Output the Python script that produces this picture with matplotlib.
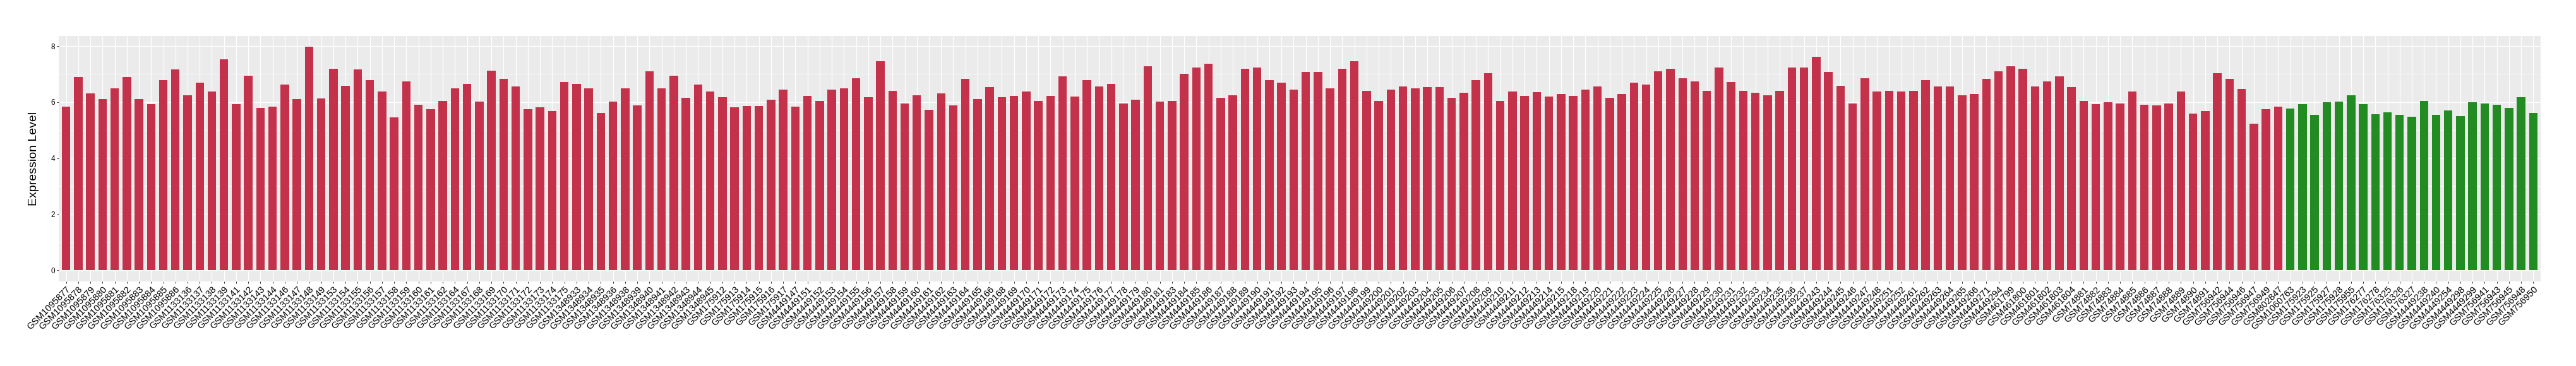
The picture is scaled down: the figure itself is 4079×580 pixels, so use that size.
import numpy as np
import matplotlib
matplotlib.use("Agg")
import matplotlib.pyplot as plt

plt.rcParams['font.family'] = ['Liberation Sans', 'DejaVu Sans']

# sample ids, in plotted order
red_samples = [
    "GSM1095877", "GSM1095878", "GSM1095879", "GSM1095880", "GSM1095881",
    "GSM1095882", "GSM1095883", "GSM1095884", "GSM1095885", "GSM1095886",
    "GSM1133136", "GSM1133137", "GSM1133138", "GSM1133139", "GSM1133141",
    "GSM1133142", "GSM1133143", "GSM1133144", "GSM1133146", "GSM1133147",
    "GSM1133148", "GSM1133149", "GSM1133153", "GSM1133154", "GSM1133155",
    "GSM1133156", "GSM1133157", "GSM1133158", "GSM1133159", "GSM1133160",
    "GSM1133161", "GSM1133162", "GSM1133164", "GSM1133167", "GSM1133168",
    "GSM1133169", "GSM1133170", "GSM1133171", "GSM1133172", "GSM1133173",
    "GSM1133174", "GSM1133175",
    "GSM1348933", "GSM1348934", "GSM1348935", "GSM1348936", "GSM1348938",
    "GSM1348939", "GSM1348940", "GSM1348941", "GSM1348942", "GSM1348943",
    "GSM1348944", "GSM1348945",
    "GSM175912", "GSM175913", "GSM175914", "GSM175915", "GSM175916", "GSM175917",
    "GSM4449147", "GSM4449151", "GSM4449152", "GSM4449153", "GSM4449154",
    "GSM4449155", "GSM4449156", "GSM4449157", "GSM4449158", "GSM4449159",
    "GSM4449160", "GSM4449161", "GSM4449162", "GSM4449163", "GSM4449164",
    "GSM4449165", "GSM4449166", "GSM4449168", "GSM4449169", "GSM4449170",
    "GSM4449171", "GSM4449172", "GSM4449173", "GSM4449174", "GSM4449175",
    "GSM4449176", "GSM4449177", "GSM4449178", "GSM4449179", "GSM4449180",
    "GSM4449181", "GSM4449183", "GSM4449184", "GSM4449185", "GSM4449186",
    "GSM4449187", "GSM4449188", "GSM4449189", "GSM4449190", "GSM4449191",
    "GSM4449192", "GSM4449193", "GSM4449194", "GSM4449195", "GSM4449196",
    "GSM4449197", "GSM4449198", "GSM4449199", "GSM4449200", "GSM4449201",
    "GSM4449202", "GSM4449203", "GSM4449204", "GSM4449205", "GSM4449206",
    "GSM4449207", "GSM4449208", "GSM4449209", "GSM4449210", "GSM4449211",
    "GSM4449212", "GSM4449213", "GSM4449214", "GSM4449215", "GSM4449218",
    "GSM4449219", "GSM4449220", "GSM4449221", "GSM4449222", "GSM4449223",
    "GSM4449224", "GSM4449225", "GSM4449226", "GSM4449227", "GSM4449228",
    "GSM4449229", "GSM4449230", "GSM4449231", "GSM4449232", "GSM4449233",
    "GSM4449234", "GSM4449235", "GSM4449236", "GSM4449237", "GSM4449243",
    "GSM4449244", "GSM4449245", "GSM4449246", "GSM4449247", "GSM4449248",
    "GSM4449251", "GSM4449252", "GSM4449261", "GSM4449262", "GSM4449263",
    "GSM4449264", "GSM4449265", "GSM4449266", "GSM4449271", "GSM4449294",
    "GSM461799", "GSM461800", "GSM461801", "GSM461802", "GSM461803", "GSM461804",
    "GSM74881", "GSM74882", "GSM74883", "GSM74884", "GSM74885", "GSM74886",
    "GSM74887", "GSM74888", "GSM74889", "GSM74890", "GSM74891",
    "GSM756942", "GSM756944", "GSM756946", "GSM756947", "GSM756949",
    "GSM802847",
]
red_values = [
    5.83, 6.89, 6.30, 6.10, 6.49, 6.89, 6.10, 5.92, 6.79, 7.16,
    6.24, 6.69, 6.37, 7.52, 5.92, 6.94, 5.79, 5.83, 6.62, 6.10,
    7.97, 6.12, 7.20, 6.59, 7.16, 6.79, 6.37, 5.45, 6.75, 5.90,
    5.74, 6.03, 6.50, 6.66, 6.01, 7.13, 6.84, 6.55, 5.74, 5.81,
    5.67, 6.71,
    6.64, 6.49, 5.61, 6.01, 6.50, 5.88, 7.11, 6.49, 6.94, 6.15, 6.62, 6.37,
    6.17, 5.81, 5.86, 5.86, 6.08, 6.44,
    5.83, 6.21, 6.05, 6.44, 6.50, 6.86, 6.17, 7.45, 6.40, 5.96,
    6.24, 5.72, 6.30, 5.88, 6.82, 6.10, 6.53, 6.17, 6.21, 6.37,
    6.05, 6.21, 6.91, 6.19, 6.78, 6.57, 6.66, 5.96, 6.08, 7.27,
    6.01, 6.05, 7.00, 7.23, 7.38, 6.15, 6.24, 7.18, 7.23, 6.78,
    6.69, 6.44, 7.07, 7.07, 6.49, 7.18, 7.45, 6.41, 6.05, 6.44,
    6.55, 6.49, 6.53, 6.53, 6.15, 6.33, 6.79, 7.04, 6.03, 6.37,
    6.21, 6.35, 6.19, 6.28, 6.21, 6.44, 6.55, 6.15, 6.28, 6.69,
    6.62, 7.09, 7.18, 6.86, 6.75, 6.40, 7.24, 6.71, 6.40, 6.33,
    6.24, 6.41, 7.24, 7.24, 7.62, 7.07, 6.59, 5.95, 6.86, 6.37,
    6.40, 6.37, 6.40, 6.78, 6.57, 6.57, 6.24, 6.28, 6.84, 7.11,
    7.27, 7.18, 6.57, 6.75, 6.91, 6.53,
    6.05, 5.92, 5.99, 5.96, 6.37, 5.90, 5.88, 5.95, 6.37, 5.58, 5.67,
    7.04, 6.82, 6.46, 5.22, 5.74,
    5.83,
]

green_samples = [
    "GSM1060763", "GSM175923", "GSM175925", "GSM175927", "GSM175928",
    "GSM175955", "GSM176277", "GSM176278", "GSM176325", "GSM176326",
    "GSM176327", "GSM4449238", "GSM4449240", "GSM4449254", "GSM4449298",
    "GSM4449299", "GSM756941", "GSM756943", "GSM756945", "GSM756948",
    "GSM756950",
]
green_values = [
    5.76, 5.92, 5.54, 5.99, 6.01, 6.25, 5.92, 5.56, 5.63, 5.54,
    5.47, 6.03, 5.54, 5.70, 5.50, 5.99, 5.96, 5.90, 5.79, 6.17,
    5.61,
]

RED = "#C3314A"
GREEN = "#228B22"

samples = red_samples + green_samples
values = red_values + green_values
colors = [RED] * len(red_samples) + [GREEN] * len(green_samples)
x = np.arange(len(samples))

fig = plt.figure(figsize=(40.8, 5.8), dpi=100)
ax = fig.add_axes([93 / 4080, 1 - 445.7 / 580, 3930 / 4080, 389 / 580])
ax.set_facecolor("#EBEBEB")

ax.bar(x, values, width=0.7, color=colors, zorder=3)

ax.set_xlim(-0.6, len(samples) - 0.4)
ax.set_ylim(-0.05 * max(values), 1.05 * max(values))

ax.set_yticks([0, 2, 4, 6, 8])
ax.set_yticks([1, 3, 5, 7], minor=True)
ax.set_xticks(x)
ax.set_xticklabels(samples, rotation=45, ha="right", va="top",
                   rotation_mode="anchor", fontsize=10.5, color="black")

ax.grid(True, which="major", color="white", linewidth=0.9, zorder=0)
ax.grid(True, which="minor", axis="y", color="white", linewidth=0.45, zorder=0)
ax.set_axisbelow(True)

ax.tick_params(axis="both", which="major", length=2.2, width=0.75,
               color="#333333", pad=2)
ax.tick_params(axis="y", labelsize=8.5, labelcolor="black")
ax.tick_params(axis="y", which="minor", length=0)
for s in ax.spines.values():
    s.set_visible(False)

fig.text(53.5 / 4080, 1 - 251.2 / 580, "Expression Level", rotation=90,
         ha="center", va="center", fontsize=14, color="black")

fig.savefig("out.png", dpi=100, facecolor="white")
